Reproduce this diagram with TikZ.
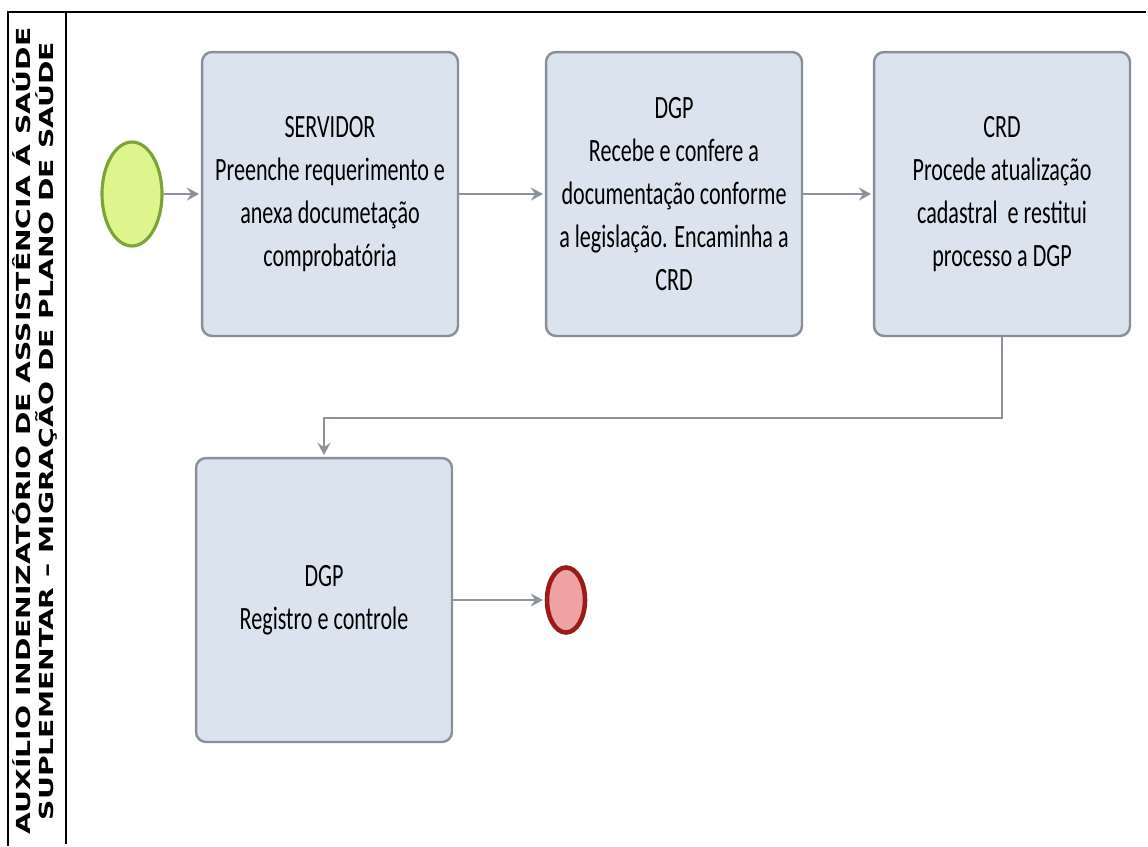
\documentclass[tikz,border=0pt]{standalone}
\usepackage{fontspec}
\usepackage{tikz}
\usetikzlibrary{shapes,arrows,arrows.meta}
\newfontfamily\boxfont[FakeStretch=0.68]{Carlito}
\newfontfamily\lanefont[FakeStretch=1.46]{DejaVu Sans}
\definecolor{taskfill}{HTML}{DBE3EE}
\definecolor{taskline}{HTML}{8A9098}
\definecolor{flowgrey}{HTML}{8C939B}
\definecolor{startfill}{HTML}{DDF58C}
\definecolor{startline}{HTML}{7BA33A}
\definecolor{endfill}{HTML}{EFA2A2}
\definecolor{endline}{HTML}{9A1B1B}

\begin{document}
\begin{tikzpicture}[x=0.02cm,y=-0.02cm,->,>={Stealth[length=7pt,width=7.5pt,inset=2.5pt]},shorten >=1pt,
  flow/.style={draw=flowgrey,line width=1.3pt},
  task node/.style={rectangle,rounded corners=0.2cm,draw=taskline,line width=1.4pt,
    fill=taskfill,minimum width=5.12cm,minimum height=5.68cm,align=center,
    font=\boxfont\fontsize{18.5}{24.5}\selectfont},
  start node/.style={ellipse,draw=startline,line width=1.8pt,fill=startfill,
    minimum width=1.2cm,minimum height=2.08cm},
  end node/.style={ellipse,draw=endline,line width=2.6pt,fill=endfill,
    minimum width=0.76cm,minimum height=1.3cm}]

  \useasboundingbox (0,0) rectangle (1148,846);

  % lane
  \draw[-,line width=0.9pt] (8,846) -- (8,12) -- (1148,12);
  \draw[-,line width=0.9pt] (66,12) -- (66,846);
  \node[rotate=90,align=center,font=\lanefont\bfseries\fontsize{11}{13.5}\selectfont]
    (lane) at (35,431) {AUXÍLIO INDENIZATÓRIO DE ASSISTÊNCIA Á SAÚDE\\
    SUPLEMENTAR – MIGRAÇÃO DE PLANO DE SAÚDE};

  \node[start node] (s) at (132,194) {};
  \node[task node] (1) at (330,194) {SERVIDOR\\Preenche requerimento e\\anexa documetação\\comprobatória};
  \node[task node] (2) at (674,194) {DGP\\Recebe e confere a\\documentação conforme\\a legislação. Encaminha a\\CRD};
  \node[task node] (3) at (1002,194) {CRD\\Procede atualização\\cadastral\ \ e restitui\\processo a DGP};
  \node[task node] (4) at (324,600) {DGP\\Registro e controle};
  \node[end node] (e) at (566,600) {};

  \path[every edge/.style={draw,flow}]
    (s) edge (1)
    (1) edge (2)
    (2) edge (3)
    (4) edge (e);
  \draw[flow] (3.south) -- ++(0,81) -| (4.north);
\end{tikzpicture}
\end{document}
